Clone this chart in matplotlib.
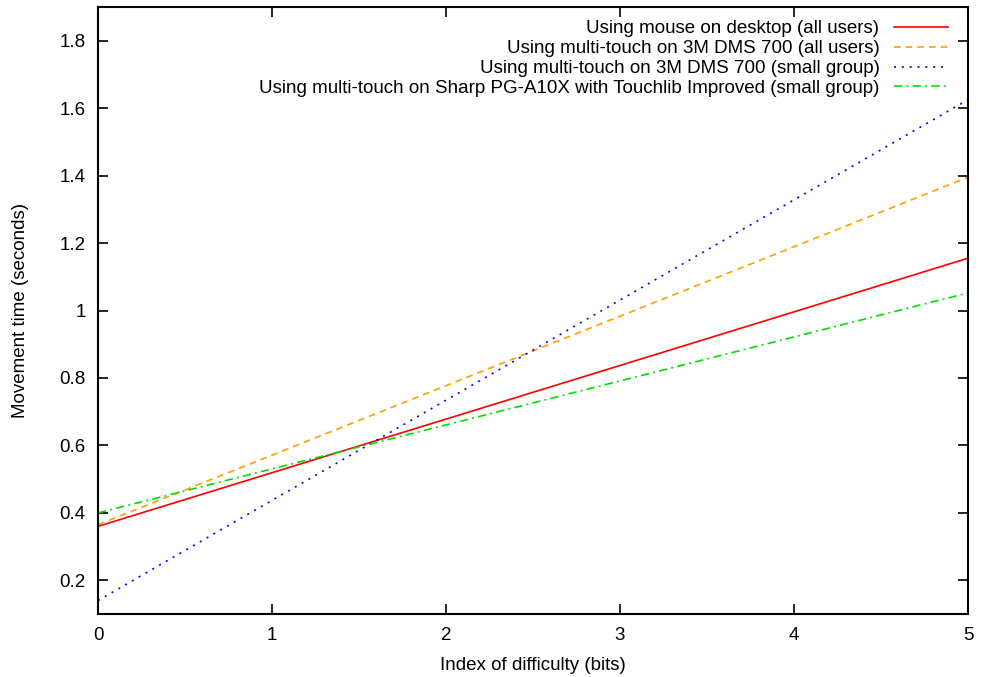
import matplotlib
matplotlib.use("Agg")
import matplotlib.pyplot as plt

plt.rcParams['font.family'] = ['Liberation Sans', 'DejaVu Sans']

# bits of difficulty at the two ends of each fitted line
x_bits = [0, 5]

mouse_all = [0.360, 1.155]
dms_all = [0.365, 1.395]
dms_small = [0.140, 1.625]
sharp_small = [0.400, 1.052]

labels = [
    "Using mouse on desktop (all users)",
    "Using multi-touch on 3M DMS 700 (all users)",
    "Using multi-touch on 3M DMS 700 (small group)",
    "Using multi-touch on Sharp PG-A10X with Touchlib Improved (small group)",
]

x_ticks = [0, 1, 2, 3, 4, 5]
y_ticks = [0.2, 0.4, 0.6, 0.8, 1.0, 1.2, 1.4, 1.6, 1.8]
y_tick_labels = ["0.2", "0.4", "0.6", "0.8", "1", "1.2", "1.4", "1.6", "1.8"]

fs = 13.5

fig = plt.figure(figsize=(9.84, 6.77), dpi=100)
ax = fig.add_axes([0.0996, 0.093, 0.8841, 0.8967])

ax.plot(x_bits, mouse_all, color="#ff0000", lw=1.2, label=labels[0])
ax.plot(x_bits, dms_all, color="#ffa000", lw=1.2, dashes=(4, 3), label=labels[1])
ax.plot(x_bits, dms_small, color="#0000ff", lw=1.2, dashes=(1.2, 3.5), label=labels[2])
ax.plot(x_bits, sharp_small, color="#00e000", lw=1.2, dashes=(5, 2.5, 1.2, 2.5), label=labels[3])

ax.set_xlim(0, 5)
ax.set_ylim(0.1, 1.9)
ax.set_xticks(x_ticks)
ax.set_yticks(y_ticks)
ax.set_yticklabels(y_tick_labels)
ax.tick_params(direction="in", length=7, width=1.2, top=True, right=True,
               labelsize=fs, pad=9)
for s in ax.spines.values():
    s.set_linewidth(1.5)

ax.set_xlabel("Index of difficulty (bits)", fontsize=fs, labelpad=10)
ax.set_ylabel("Movement time (seconds)", fontsize=fs, labelpad=22)

ax.legend(loc="upper right", frameon=False, markerfirst=False, fontsize=fs,
          handlelength=2.9, handletextpad=0.75, labelspacing=0.15,
          borderaxespad=0.3, bbox_to_anchor=(0.992, 1.0))

fig.savefig("out.png", dpi=100)
